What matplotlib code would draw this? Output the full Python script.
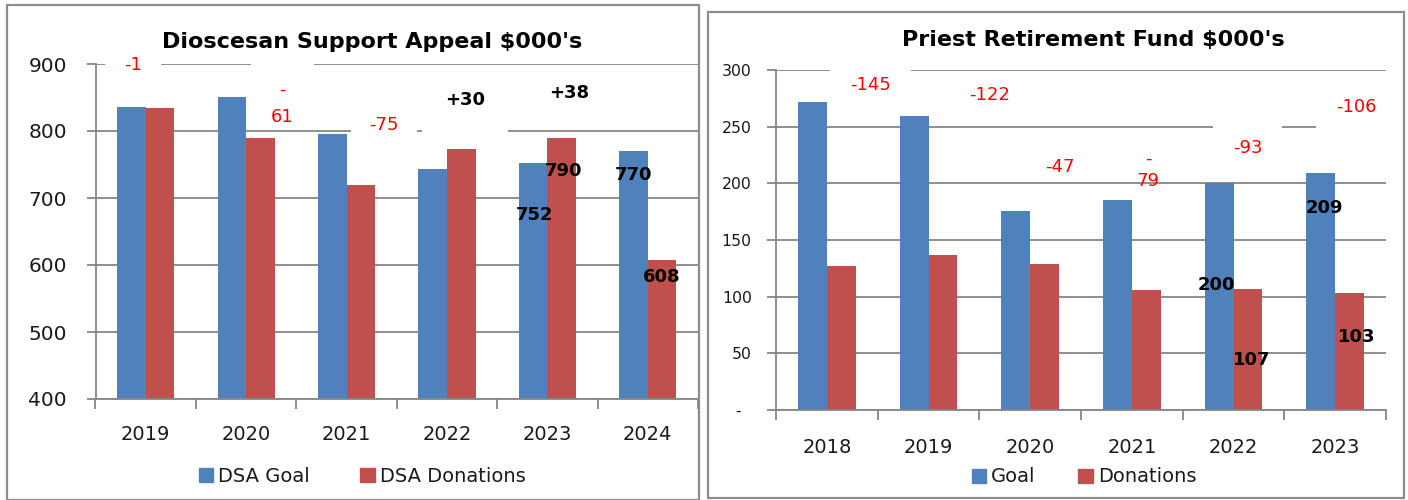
import matplotlib
matplotlib.use("Agg")
import matplotlib.pyplot as plt
from matplotlib.patches import Rectangle, Patch

plt.rcParams['font.family'] = ['DejaVu Sans']

# Diocesan Support Appeal ($000's)
dsa_years = ['2019', '2020', '2021', '2022', '2023', '2024']
dsa_goal = [836, 851, 795, 743, 752, 770]
dsa_donations = [835, 790, 720, 773, 790, 608]

# Priest Retirement Fund ($000's)
prf_years = ['2018', '2019', '2020', '2021', '2022', '2023']
prf_goal = [272, 259, 176, 185, 200, 209]
prf_donations = [127, 137, 129, 106, 107, 103]

# data labels as they sit in the original (text, x in category units, y in data units)
dsa_labels = ['-1', '           \n-\n61', '-75', '+30', '+38', '752', '790', '770', '608']
dsa_label_x = [-0.13, 1.36, 2.37, 3.18, 4.22, 3.87, 4.16, 4.86, 5.14]
dsa_label_y = [898, 861, 809, 846, 857, 675, 740, 734, 582]
dsa_label_red = [True, True, True, False, False, False, False, False, False]
dsa_label_pad = [1.05, 0.0, 1.0, 1.25, None, None, None, None, None]
dsa_label_ls = [1.3, 1.65, 1.3, 1.3, 1.3, 1.3, 1.3, 1.3, 1.3]

prf_labels = ['-145', '-122', '-47', '-\n79', '-93', '-106', '209', '200', '107', '103']
prf_label_x = [0.43, 1.60, 2.29, 3.16, 4.14, 5.21, 4.89, 3.83, 4.18, 5.21]
prf_label_y = [287, 278, 214, 212, 231, 267, 178, 110, 44, 64]
prf_label_red = [True, True, True, True, True, True, False, False, False, False]
prf_label_pad = [1.1, None, None, None, 1.1, 1.1, None, None, None, None]
prf_label_ls = [1.3] * 10

BLUE = '#4F81BD'
RED = '#C0504D'
GRID = '#868686'
TXT = '#1a1a1a'
W, H = 1408, 500

fig = plt.figure(figsize=(14.08, 5.0), dpi=100)

# panel frames
fig.patches.append(Rectangle((7 / W, 0), (699 - 7) / W, 1 - 5 / H, transform=fig.transFigure,
                             fill=False, edgecolor='#8c8c8c', linewidth=1.6))
fig.patches.append(Rectangle((708 / W, 1 - 498 / H), (1404 - 708) / W, (498 - 12) / H,
                             transform=fig.transFigure, fill=False, edgecolor='#8c8c8c', linewidth=1.6))


def draw_panel(ax, years, goal, don, ylim, step, ytick_size, labels, lx, ly, lred, lpad, lls):
    x = list(range(len(years)))
    w = 0.285
    ax.bar([i - w / 2 for i in x], goal, width=w, color=BLUE, zorder=2)
    ax.bar([i + w / 2 for i in x], don, width=w, color=RED, zorder=2)
    ax.set_xlim(-0.5, len(years) - 0.5)
    ax.set_ylim(*ylim)
    ax.set_yticks(range(ylim[0], ylim[1] + 1, step))
    ax.grid(axis='y', color=GRID, linewidth=1.3, zorder=0)
    ax.set_axisbelow(True)
    for s in ['top', 'right']:
        ax.spines[s].set_visible(False)
    for s in ['left', 'bottom']:
        ax.spines[s].set_color(GRID)
        ax.spines[s].set_linewidth(1.3)
    ax.set_xticks(x)
    ax.set_xticklabels(years)
    ax.set_xticks([i - 0.5 for i in range(len(years) + 1)], minor=True)
    ax.tick_params(axis='x', which='major', length=0, pad=19, labelsize=14, labelcolor=TXT)
    ax.tick_params(axis='x', which='minor', length=7, width=1.3, color=GRID)
    ax.tick_params(axis='y', length=6.5, width=1.3, color=GRID, labelsize=ytick_size,
                   labelcolor=TXT)
    for t, tx, ty, r, p, ls in zip(labels, lx, ly, lred, lpad, lls):
        kw = dict(ha='center', va='center', fontsize=13, zorder=5,
                  color='#ff0000' if r else '#000000',
                  fontweight='normal' if r else 'bold')
        if p is not None:
            kw['bbox'] = dict(boxstyle=f'square,pad={p}', facecolor='white', edgecolor='none')
        ax.text(tx, ty, t, linespacing=ls, **kw)


ax1 = fig.add_axes([95.5 / W, 1 - 399 / H, (698 - 95.5) / W, (399 - 64) / H])
draw_panel(ax1, dsa_years, dsa_goal, dsa_donations, (400, 900), 100, 14.5,
           dsa_labels, dsa_label_x, dsa_label_y, dsa_label_red, dsa_label_pad, dsa_label_ls)
ax1.tick_params(axis='y', pad=14)

ax2 = fig.add_axes([776 / W, 1 - 410 / H, 610 / W, 340 / H])
draw_panel(ax2, prf_years, prf_goal, prf_donations, (0, 300), 50, 11.3,
           prf_labels, prf_label_x, prf_label_y, prf_label_red, prf_label_pad, prf_label_ls)
ax2.set_yticklabels(['-  '] + [str(v) for v in range(50, 301, 50)])
ax2.tick_params(axis='y', pad=11)
ax2.tick_params(axis='x', which='major', pad=20)

fig.text(372 / W, 1 - 42 / H, "Dioscesan Support Appeal $000's", ha='center', va='center',
         fontsize=16, fontweight='bold', color='#000000')
fig.text(1093 / W, 1 - 40 / H, "Priest Retirement Fund $000's", ha='center', va='center',
         fontsize=16, fontweight='bold', color='#000000')

leg_kw = dict(ncol=2, frameon=False, fontsize=14, handlelength=0.75, handleheight=0.75,
              handletextpad=0.25, loc='center', labelcolor=TXT)
fig.legend([Patch(color=BLUE), Patch(color=RED)], ['DSA Goal', 'DSA Donations'],
           bbox_to_anchor=(362 / W, 1 - 476 / H), columnspacing=2.6, **leg_kw)
fig.legend([Patch(color=BLUE), Patch(color=RED)], ['Goal', 'Donations'],
           bbox_to_anchor=(1084 / W, 1 - 477 / H), columnspacing=2.2, **leg_kw)

fig.savefig('out.png', dpi=100, facecolor='white')
